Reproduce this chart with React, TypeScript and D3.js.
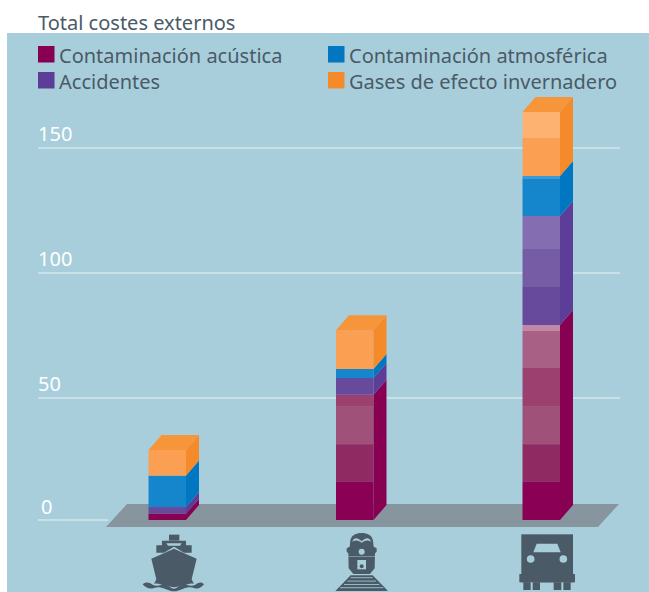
import React from "react";
import * as d3 from "d3";

const titleText = "Total costes externos";
const categories = ["Barco", "Tren", "Carretera"];
const seriesNames = ["Contaminación acústica", "Accidentes", "Contaminación atmosférica", "Gases de efecto invernadero"];
const legendOrder = [0, 2, 1, 3];
const ticks = [0, 50, 100, 150];

// Each list: stacked blocks for barco, tren, carretera
const acustica = [[2.6], [15.6, 15.5, 15.6, 4.6], [15.6, 15.5, 15.6, 15.3, 14.8, 2.4]];
const accidentes = [[2.7], [6.7], [15.2, 15.2, 13.2]];
const atmosferica = [[12.9], [3.6], [14.8, 1.2]];
const gases = [[10.5], [15.5], [15.2, 10.4]];
const seriesBlocks = [acustica, accidentes, atmosferica, gases];

const seriesColors = ["#870052", "#5c3d97", "#0077c0", "#f58a2a"];
const blockColors = [
  ["#8a0054", "#8f2a62", "#a0517a", "#9c4070", "#a96085", "#c188a6"],
  ["#684a9c", "#765ca5", "#846db0"],
  ["#1586cc", "#3d9ad4"],
  ["#fb9f53", "#fdb272"],
];
const topColor = "#f7953a";
const panel = "#a8cedc";
const ink = "#4a5a66";
const font = "'Noto Sans', 'Open Sans', sans-serif";
const depthX = 13;
const depthY = 15;
const barW = 37.5;

const x = d3.scalePoint<string>().domain(categories).range([148.5, 522.5]);
const y = d3.scaleLinear().domain(ticks).range([520, 398, 273, 148]);

function Bars() {
  const line = d3.line();
  const out: React.ReactNode[] = [];
  categories.forEach((cat, ci) => {
    const x0 = x(cat)! + (ci === 1 ? 0.5 : 0);
    const x1 = x0 + barW;
    let cum = 0;
    seriesBlocks.forEach((blocks, si) => {
      const start = cum;
      blocks[ci].forEach((v, bi) => {
        out.push(
          <rect key={`f${ci}-${si}-${bi}`} x={x0} width={barW} y={y(cum + v)} height={y(cum) - y(cum + v)} fill={blockColors[si][bi]} />
        );
        cum += v;
      });
      const pts: [number, number][] = [
        [x1, y(start)],
        [x1 + depthX, y(start) - depthY],
        [x1 + depthX, y(cum) - depthY],
        [x1, y(cum)],
      ];
      out.push(<path key={`s${ci}-${si}`} d={line(pts)! + "Z"} fill={seriesColors[si]} />);
    });
    const top: [number, number][] = [
      [x0, y(cum)],
      [x0 + depthX, y(cum) - depthY],
      [x1 + depthX, y(cum) - depthY],
      [x1, y(cum)],
    ];
    out.push(<path key={`t${ci}`} d={line(top)! + "Z"} fill={topColor} />);
  });
  return <g>{out}</g>;
}

function Ship() {
  return (
    <g transform="translate(100,430) scale(0.3333)" fill={ink}>
      <rect x={207} y={314} width={31} height={18} />
      <path d="M186,332H258V346H275V368H252L222,350L192,368H169V346H186Z" />
      <path d="M199,340H245L240,347H204Z" fill={panel} />
      <path d="M222,356L290,386L275,448L282,462C270,458 262,466 250,466C238,466 232,472 222,472C212,472 206,466 194,466C182,466 174,458 162,462L169,448L154,386Z" />
      <path d="M128,463C138,454 148,458 158,464C172,472 186,462 198,464C208,466 214,476 222,476C230,476 236,466 246,464C258,462 272,472 286,464C296,458 304,454 312,463C304,474 294,478 282,474C270,470 262,472 250,476C238,480 232,484 222,484C212,484 206,480 194,476C182,472 174,470 162,474C150,478 136,474 128,463Z" />
    </g>
  );
}

function Train() {
  const sleepers: [number, number, number][] = [
    [92, 158, 226],
    [82, 168, 236],
    [72, 178, 246],
    [60, 190, 256],
  ];
  return (
    <g transform="translate(320,500) scale(0.3333)" fill={ink}>
      <path d="M125,99C108,99 94,105 91,122L89,140L80,145V155L85,160L86,205L100,222H150L164,205L165,160L170,155V145L161,140L159,122C156,105 142,99 125,99Z" />
      <path d="M97,125C102,112 112,112 125,124C138,112 148,112 153,125C140,118 132,124 125,128C118,124 110,118 97,125Z" fill={panel} />
      <circle cx={125} cy={155} r={9} fill={panel} />
      <path d="M112,180H138V208H112Z" fill={panel} />
      <circle cx={125} cy={199} r={6} />
      <rect x={85} y={168} width={80} height={1.5} fill={panel} />
      <path d="M92,226L46,273H204L158,226Z" />
      {sleepers.map((s, i) => (
        <rect key={i} x={s[0]} width={s[1] - s[0]} y={s[2] + 6} height={2.5} fill={panel} />
      ))}
    </g>
  );
}

function Truck() {
  return (
    <g transform="translate(500,500) scale(0.3333)" fill={ink}>
      <rect x={64} y={103} width={155} height={144} />
      <rect x={58} y={222} width={167} height={25} />
      <path d="M70,247H120V270H70ZM161,247H212V270H161Z" />
      <rect x={92} y={247} width={6} height={23} fill={panel} />
      <rect x={184} y={247} width={6} height={23} fill={panel} />
      <path d="M100,157H182L172,131H110Z" fill={panel} />
      <circle cx={92} cy={177} r={11.5} fill={panel} />
      <circle cx={190} cy={177} r={11.5} fill={panel} />
    </g>
  );
}

export default function App() {
  const legendX = [38, 328];
  const legendY = [46, 72];
  return (
    <svg width={649} height={592} style={{ position: "absolute", left: 0, top: 0, background: "#fff" }} fontFamily={font}>
      <rect x={7} y={33} width={642} height={559} fill={panel} />
      <text x={38} y={30} fontSize={20} fill={ink}>{titleText}</text>

      {legendOrder.map((si, i) => {
        const lx = legendX[i % 2];
        const ly = legendY[Math.floor(i / 2)];
        return (
          <g key={si}>
            <rect x={lx} y={ly} width={16.5} height={16.5} fill={seriesColors[si]} />
            <text x={lx + 21} y={ly + 16.5} fontSize={20} fill={ink}>{seriesNames[si]}</text>
          </g>
        );
      })}

      {ticks.map((t) => (
        <g key={t}>
          <line x1={38} x2={t === 0 ? 108 : 620} y1={y(t)} y2={y(t)} stroke="#d3e6ed" strokeWidth={1.5} />
          <text x={t === 0 ? 41 : 38} y={y(t) - (t === 0 ? 6 : 7)} fontSize={20} fill="#fff">{t}</text>
        </g>
      ))}

      <path d="M127,504H619L598,527H106Z" fill="#87969e" />
      <Bars />
      <Ship />
      <Train />
      <Truck />
    </svg>
  );
}
